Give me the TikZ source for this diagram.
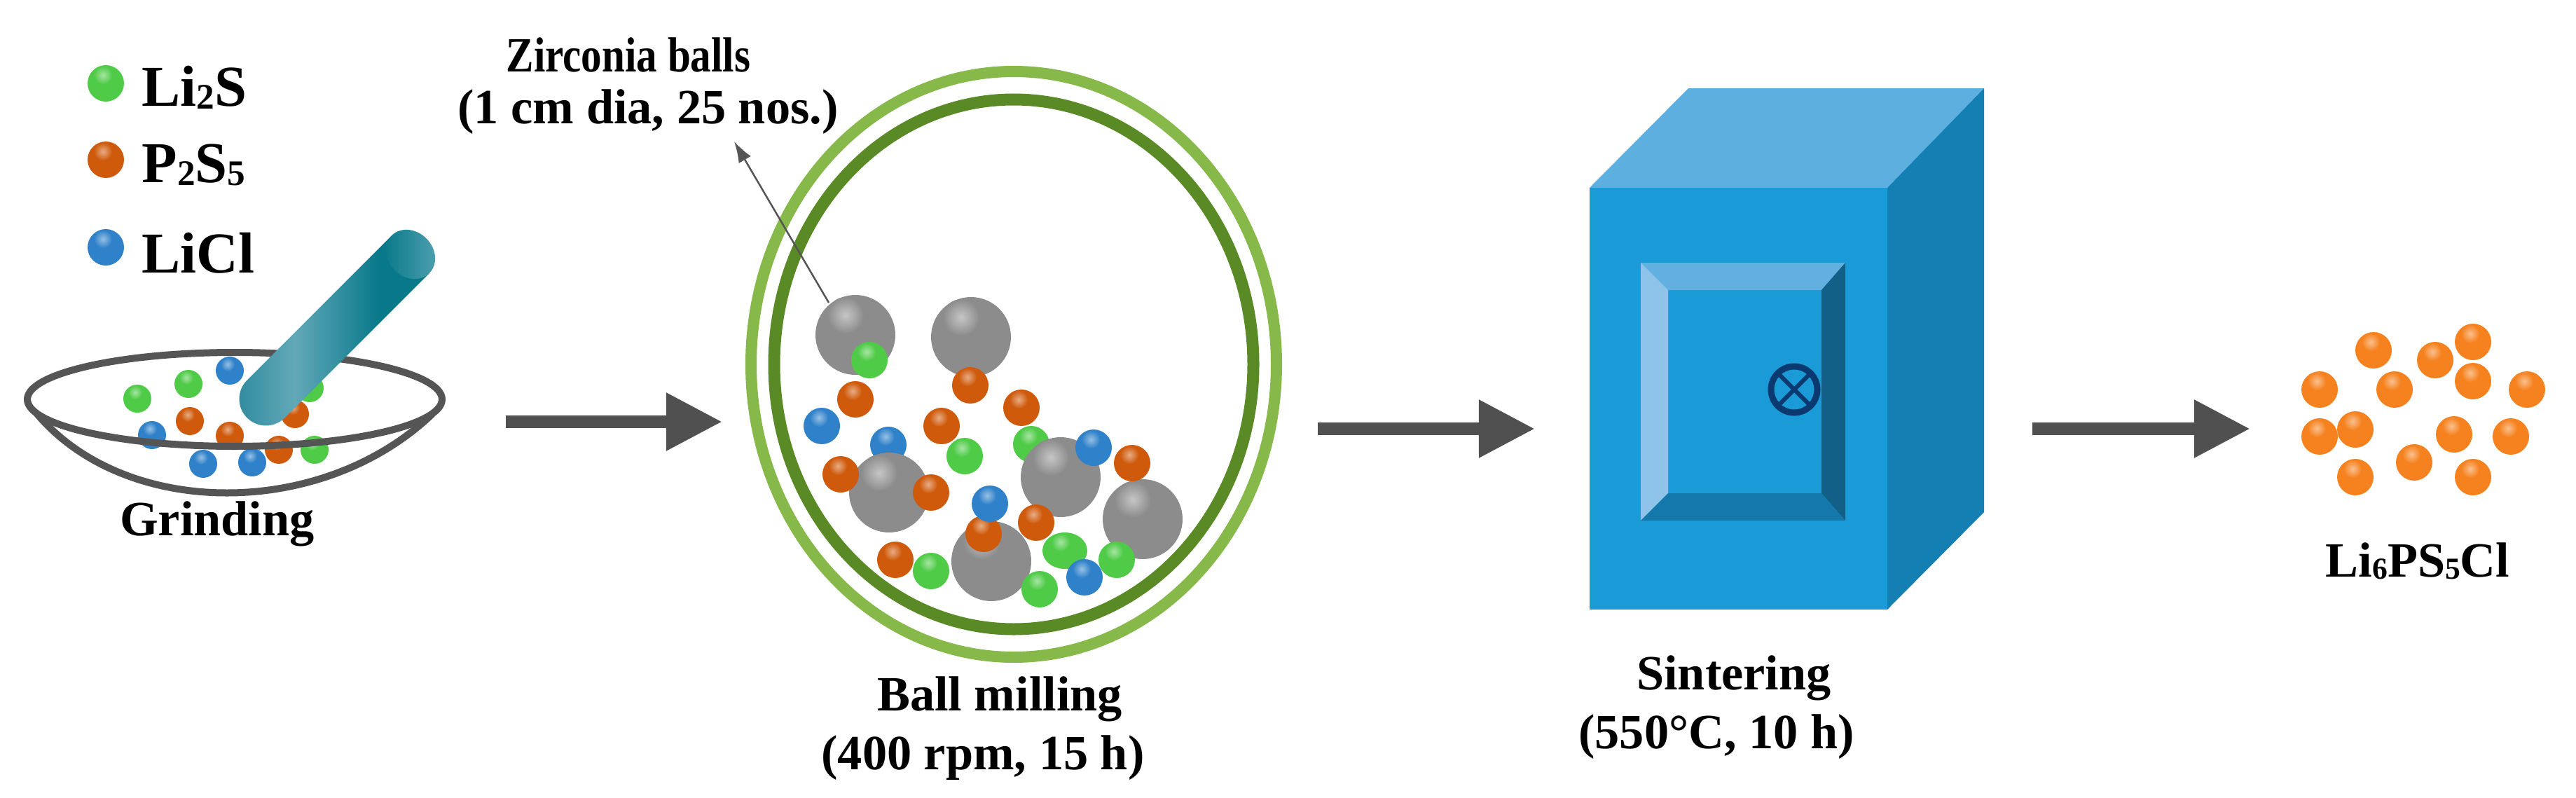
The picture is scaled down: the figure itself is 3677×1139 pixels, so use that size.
\documentclass[tikz,border=0pt]{standalone}
\usepackage{graphicx}
\usepackage{fontspec}
\setmainfont{Liberation Serif}
\usetikzlibrary{arrows.meta}
\definecolor{cgreen}{HTML}{4FCB48}
\definecolor{corange}{HTML}{CF5A0C}
\definecolor{cblue}{HTML}{2F81C9}
\definecolor{cgray}{HTML}{8C8C8C}
\definecolor{cprod}{HTML}{F5821F}
\definecolor{bowlc}{HTML}{555555}
\definecolor{ringlight}{HTML}{86B84A}
\definecolor{ringdark}{HTML}{5A8A25}
\definecolor{arrowc}{HTML}{505050}
\definecolor{pa}{HTML}{2F8C9E}
\definecolor{pb}{HTML}{62A8B8}
\definecolor{pc}{HTML}{08798A}
\definecolor{pd}{HTML}{4FA0AE}
\definecolor{ffront}{HTML}{1A9BD8}
\definecolor{ftop}{HTML}{5DAFE0}
\definecolor{fright}{HTML}{137FB3}
\definecolor{dtop}{HTML}{62B0E0}
\definecolor{dleft}{HTML}{8EC4EA}
\definecolor{dright}{HTML}{125F88}
\definecolor{dbottom}{HTML}{1578AA}
\definecolor{knob}{HTML}{0B3A70}
\pgfdeclarehorizontalshading{pestleshade}{100bp}{color(0bp)=(pa);color(25bp)=(pa);color(40bp)=(pb);color(62bp)=(pc);color(100bp)=(pc)}
\newcommand\sball[4]{% x,y,r,colour
  \fill[#4] (#1,#2) circle[radius=#3];
  \shade[inner color=white!50!#4,outer color=#4] ({#1-0.15*#3},{#2-0.45*#3}) circle[radius={0.5*#3}];}
\newcommand\gball[2]{% x,y
  \fill[cgray] (#1,#2) circle[radius=57];
  \shade[inner color=white!50!cgray,outer color=cgray] ({#1-14},{#2-28}) circle[radius=26];}
\newcommand\sbd[1]{\raisebox{-0.05em}{\scalebox{.62}{#1}}}
\tikzset{
  lbl/.style={font=\fontsize{20}{24}\selectfont\bfseries,inner sep=0pt,text=black},
  legendlbl/.style={font=\fontsize{23.5}{28}\selectfont\bfseries,inner sep=0pt,anchor=west,text=black},
  process/.style={draw=arrowc,line width=0.18cm,-{Triangle[length=0.8cm,width=0.78cm]}},
  pointer/.style={draw=bowlc,line width=0.025cm,-{Latex[length=0.3cm,width=0.2cm]}},
}
\begin{document}
\begin{tikzpicture}[x=0.01cm,y=-0.01cm]
\useasboundingbox (0,0) rectangle (3677,1139);
\fill[white] (0,0) rectangle (3677,1139);

% legend
\sball{151}{119}{26}{cgreen}
\sball{151}{228}{26}{corange}
\sball{151}{353}{26}{cblue}
\node[legendlbl] (lgA) at (202,125) {Li\sbd{2}S};
\node[legendlbl] (lgB) at (202,235) {P\sbd{2}S\sbd{5}};
\node[legendlbl] (lgC) at (202,361) {LiCl};

% mortar contents
\sball{196}{569}{20}{cgreen}
\sball{269}{548}{20}{cgreen}
\sball{328}{529}{20}{cblue}
\sball{442}{554}{20}{cgreen}
\sball{271}{601}{20}{corange}
\sball{328}{622}{20}{corange}
\sball{421}{591}{20}{corange}
\sball{217}{621}{20}{cblue}
\sball{290}{662}{20}{cblue}
\sball{360}{660}{20}{cblue}
\sball{449}{642}{20}{cgreen}
\sball{398}{642}{20}{corange}
% mortar
\draw[bowlc,line width=0.1cm] (335,570) circle[x radius=296,y radius=67];
\draw[bowlc,line width=0.1cm] (53,591) .. controls (180,741) and (460,741) .. (617,591);
% pestle
\begin{scope}[shift={(586,363)},rotate=-45]
  \shade[shading=pestleshade] (-38,0) -- (-38,292) .. controls (-38,313) and (-21,330) .. (0,330) .. controls (21,330) and (38,313) .. (38,292) -- (38,0) -- cycle;
  \shade[left color=pc,right color=pd] (0,0) circle[x radius=38,y radius=32];
\end{scope}
\node[lbl] (grind) at (310,748) {Grinding};

% arrows between the steps
\coordinate (a1s) at (722,602); \coordinate (a1e) at (1031,602);
\coordinate (a2s) at (1881,612); \coordinate (a2e) at (2191,612);
\coordinate (a3s) at (2901,612); \coordinate (a3e) at (3212,612);
\draw[process] (a1s) -- (a1e);
\draw[process] (a2s) -- (a2e);
\draw[process] (a3s) -- (a3e);

% jar
\draw[ringlight,line width=0.16cm] (1447,520) circle[x radius=375,y radius=418];
\draw[ringdark,line width=0.17cm] (1447,520) circle[x radius=342,y radius=378];
% behind big balls
\sball{1268}{635}{26}{cblue}
\sball{1472}{634}{26}{cgreen}
% big balls
\gball{1221}{478}
\gball{1386}{481}
\gball{1269}{703}
\gball{1514}{681}
\gball{1631}{741}
\gball{1415}{801}
% small balls
\sball{1241}{514}{26}{cgreen}
\sball{1221}{570}{26}{corange}
\sball{1385}{550}{26}{corange}
\sball{1458}{582}{26}{corange}
\sball{1173}{608}{26}{cblue}
\sball{1344}{608}{26}{corange}
\sball{1377}{651}{26}{cgreen}
\sball{1561}{639}{26}{cblue}
\sball{1616}{661}{26}{corange}
\sball{1200}{677}{26}{corange}
\sball{1329}{703}{26}{corange}
\sball{1404}{762}{26}{corange}
\sball{1413}{719}{26}{cblue}
\sball{1479}{746}{26}{corange}
\fill[cgreen] (1520,786) circle[x radius=32,y radius=26];
\shade[inner color=white!50!cgreen,outer color=cgreen] (1514,774) circle[radius=13];
\sball{1594}{799}{26}{cgreen}
\sball{1548}{824}{26}{cblue}
\sball{1484}{841}{26}{cgreen}
\sball{1278}{799}{26}{corange}
\sball{1329}{815}{26}{cgreen}

% pointer
\coordinate (zballtop) at (1183,432);
\coordinate (zlabelfoot) at (1048,202);
\draw[pointer] (zballtop) -- (zlabelfoot);
\node[lbl] (zA) at (897,78) {\scalebox{.84}[1]{Zirconia balls}};
\node[lbl] (zB) at (925,160) {(1 cm dia, 25 nos.)};
\node[lbl] (bmA) at (1427,998) {Ball milling};
\node[lbl] (bmB) at (1403,1082) {(400 rpm, 15 h)};

% furnace
\fill[ftop] (2269,268) -- (2410,126) -- (2832,126) -- (2694,268) -- cycle;
\fill[fright] (2694,268) -- (2832,126) -- (2832,731) -- (2694,870) -- cycle;
\fill[ffront] (2269,268) rectangle (2694,870);
\fill[dtop] (2342,375) -- (2634,375) -- (2600,414) -- (2381,414) -- cycle;
\fill[dleft] (2342,375) -- (2381,414) -- (2381,704) -- (2342,743) -- cycle;
\fill[dright] (2634,375) -- (2634,743) -- (2600,704) -- (2600,414) -- cycle;
\fill[dbottom] (2342,743) -- (2381,704) -- (2600,704) -- (2634,743) -- cycle;
\draw[knob,line width=0.09cm] (2561,556) circle[radius=33];
\draw[knob,line width=0.06cm] (2538,533) -- (2584,579);
\draw[knob,line width=0.06cm] (2584,533) -- (2538,579);
\node[lbl] (sA) at (2475,968) {Sintering};
\node[lbl] (sB) at (2450,1052) {(550°C, 10 h)};

% product
\sball{3388}{500}{26}{cprod}
\sball{3476}{514}{26}{cprod}
\sball{3530}{488}{26}{cprod}
\sball{3311}{556}{26}{cprod}
\sball{3418}{556}{26}{cprod}
\sball{3530}{544}{26}{cprod}
\sball{3607}{556}{26}{cprod}
\sball{3311}{623}{26}{cprod}
\sball{3362}{613}{26}{cprod}
\sball{3503}{620}{26}{cprod}
\sball{3584}{623}{26}{cprod}
\sball{3446}{660}{26}{cprod}
\sball{3362}{681}{26}{cprod}
\sball{3530}{681}{26}{cprod}
\node[lbl] (prod) at (3451,801) {Li\sbd{6}PS\sbd{5}Cl};
\end{tikzpicture}
\end{document}
